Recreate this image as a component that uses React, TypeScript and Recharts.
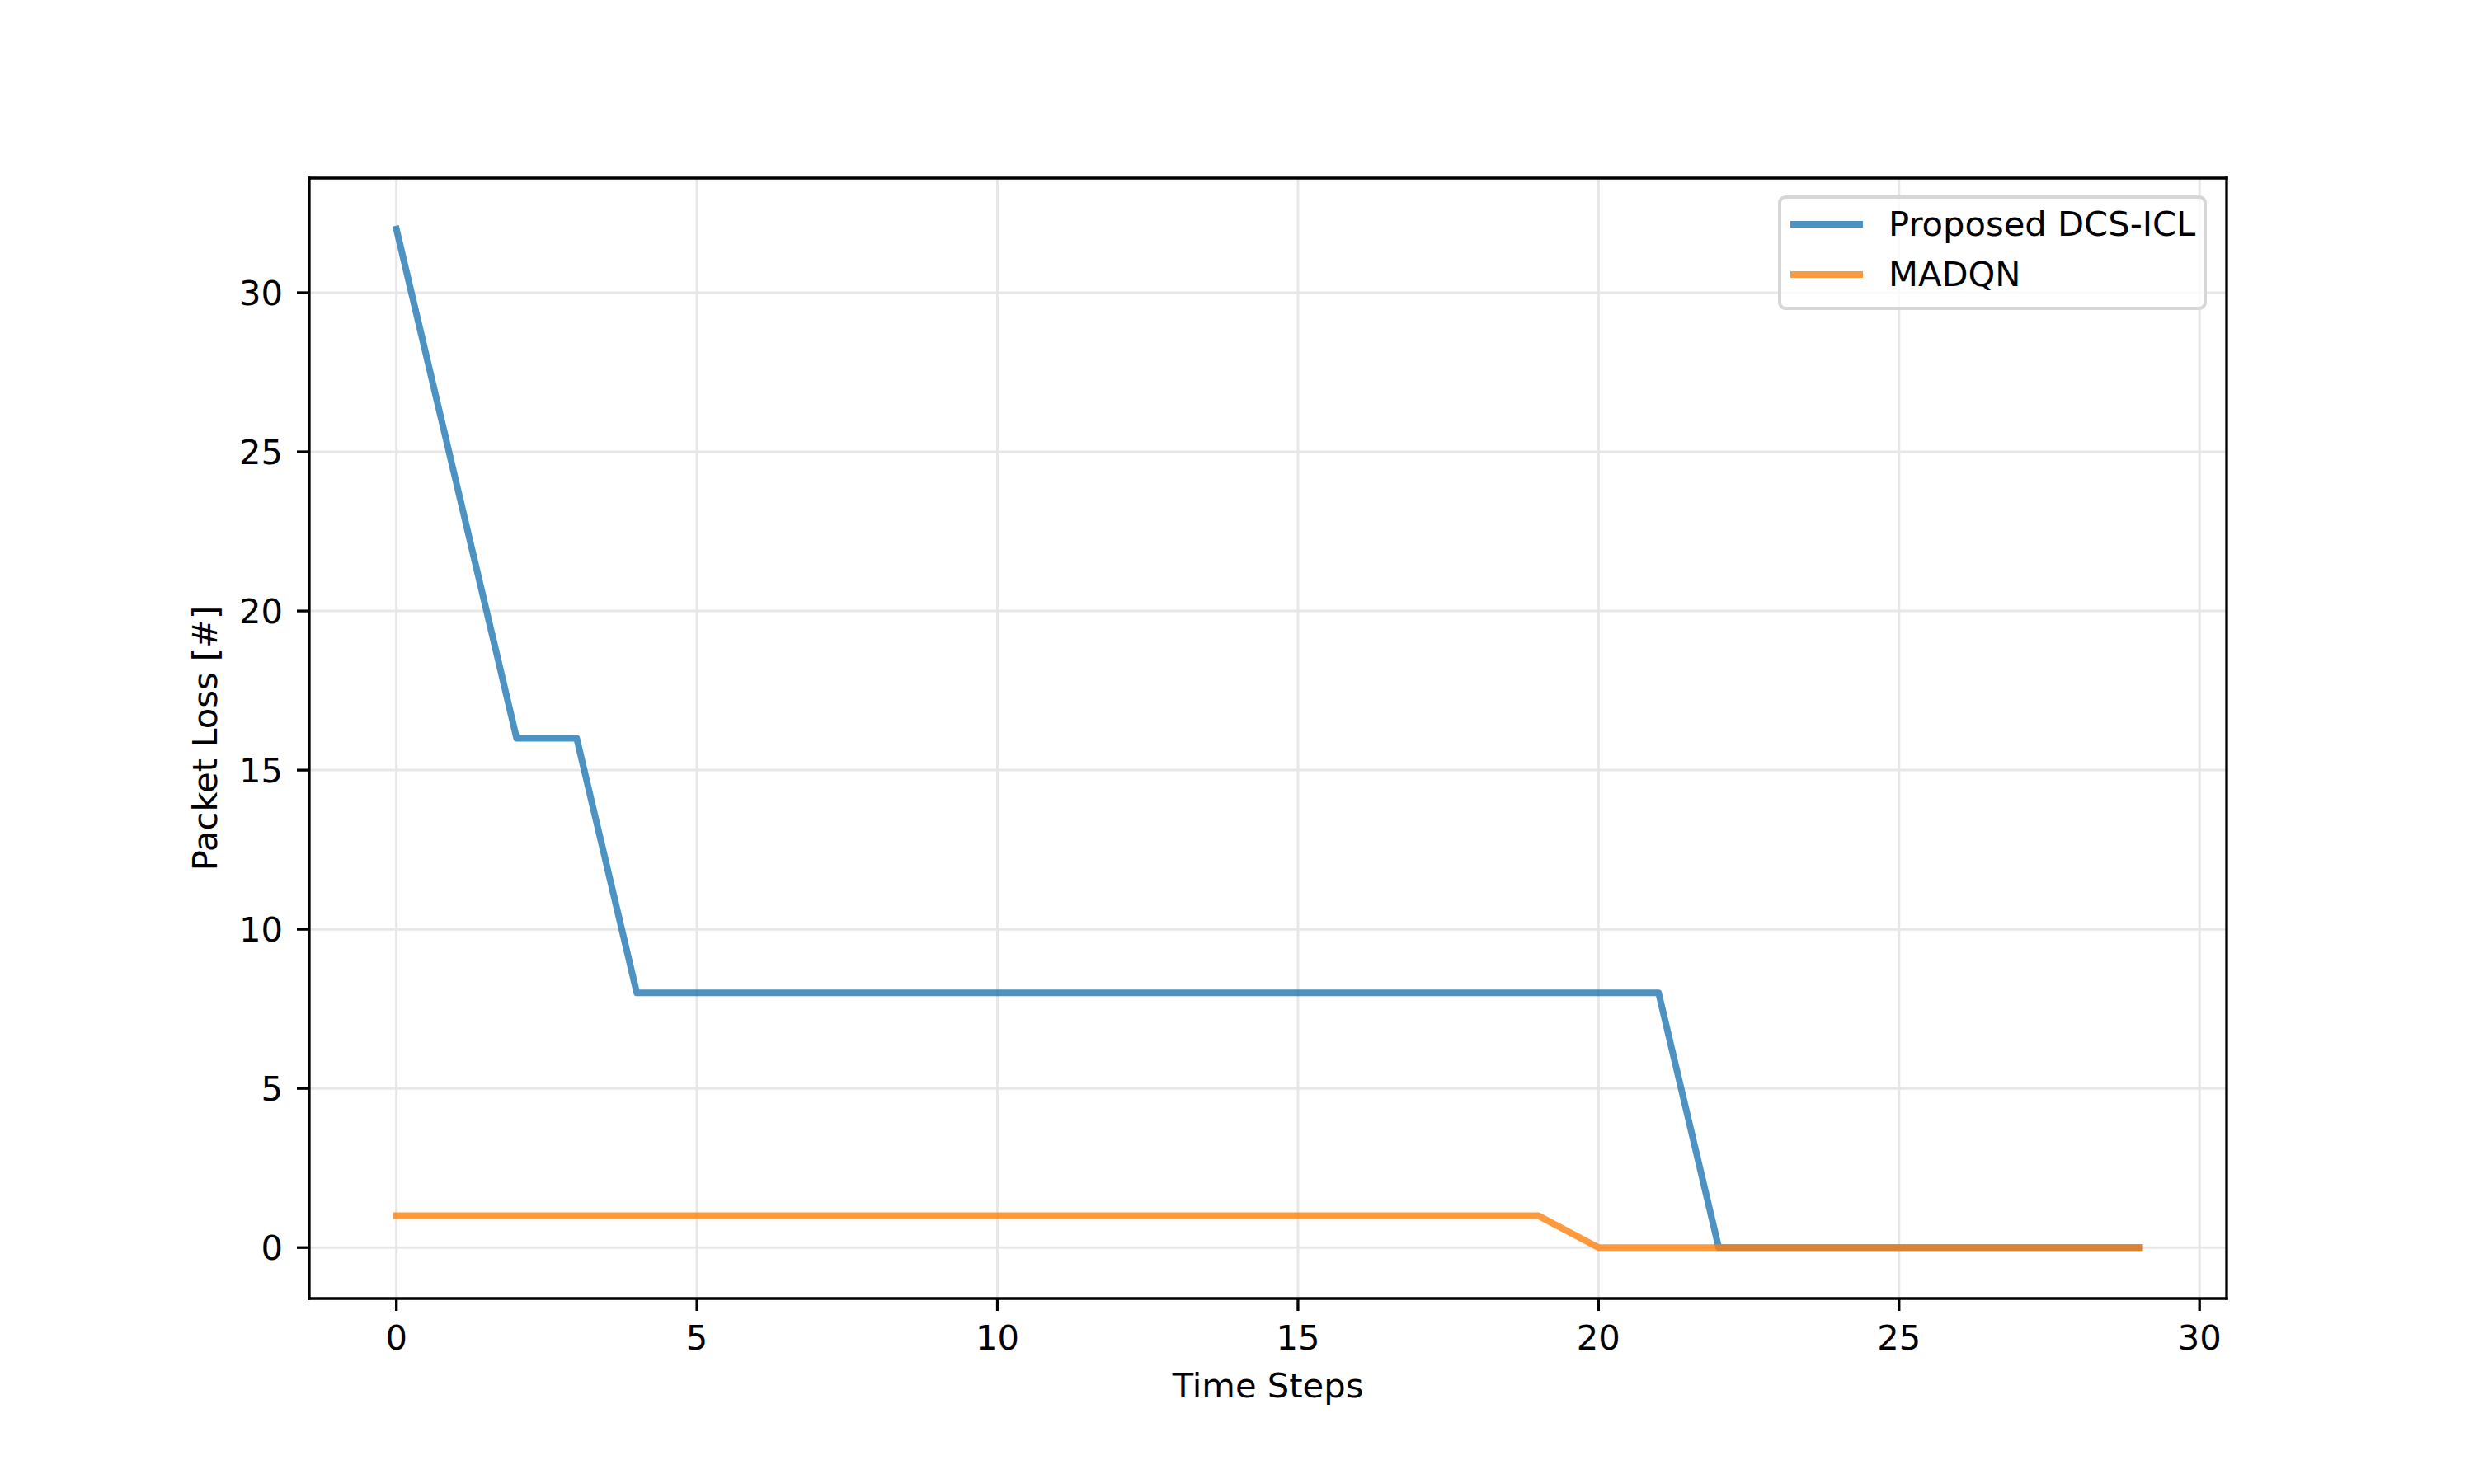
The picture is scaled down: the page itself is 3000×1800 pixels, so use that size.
import React from 'react'
import {
  LineChart,
  Line,
  XAxis,
  YAxis,
  CartesianGrid,
  Legend,
} from 'recharts'

// values
const timeSteps = [
  0, 1, 2, 3, 4, 5, 6, 7, 8, 9, 10, 11, 12, 13, 14, 15, 16, 17, 18, 19, 20, 21,
  22, 23, 24, 25, 26, 27, 28, 29,
]
const dcsIcl = [
  32, 24, 16, 16, 8, 8, 8, 8, 8, 8, 8, 8, 8, 8, 8, 8, 8, 8, 8, 8, 8, 8, 0, 0, 0,
  0, 0, 0, 0, 0,
]
const madqn = [
  1, 1, 1, 1, 1, 1, 1, 1, 1, 1, 1, 1, 1, 1, 1, 1, 1, 1, 1, 1, 0, 0, 0, 0, 0, 0,
  0, 0, 0, 0,
]
const xTicks = [0, 5, 10, 15, 20, 25, 30]
const yTicks = [0, 5, 10, 15, 20, 25, 30]

const series = [
  { key: 'dcsIcl', name: 'Proposed DCS-ICL', color: '#1f77b4' },
  { key: 'madqn', name: 'MADQN', color: '#ff7f0e' },
]

const data = timeSteps.map((t, i) => ({ t, dcsIcl: dcsIcl[i], madqn: madqn[i] }))

const FONT = '"DejaVu Sans", sans-serif'
const FS = 41.67
const SPINE = 3.3

function LegendBox() {
  return (
    <div
      style={{
        position: 'relative',
        width: 520,
        height: 139,
        boxSizing: 'border-box',
        border: '4px solid #d6d6d6',
        borderRadius: 9,
        background: 'rgba(255,255,255,0.8)',
        fontFamily: FONT,
        fontSize: FS,
        color: '#000',
      }}
    >
      {series.map((s, i) => (
        <div
          key={s.key}
          style={{
            position: 'absolute',
            left: 11,
            top: 1 + i * 61,
            height: 60,
            display: 'flex',
            alignItems: 'center',
            lineHeight: 1,
            whiteSpace: 'nowrap',
          }}
        >
          <div
            style={{
              width: 88,
              height: 8,
              background: s.color,
              opacity: 0.8,
              marginRight: 31,
            }}
          />
          <span>{s.name}</span>
        </div>
      ))}
    </div>
  )
}

export default function App() {
  return (
    <div style={{ position: 'absolute', left: 0, top: 0, background: '#fff' }}>
      <LineChart
        width={3000}
        height={1800}
        data={data}
        margin={{ top: 215, right: 299, left: 235, bottom: 135 }}
      >
        <CartesianGrid
          xAxisId="bottom"
          yAxisId="left"
          stroke="#e7e7e7"
          strokeWidth={3}
        />
        <XAxis
          xAxisId="bottom"
          dataKey="t"
          type="number"
          domain={[-1.45, 30.45]}
          ticks={xTicks}
          allowDataOverflow
          height={90}
          tickSize={15}
          tickMargin={17}
          tickLine={{ stroke: '#000', strokeWidth: SPINE }}
          axisLine={{ stroke: '#000', strokeWidth: SPINE, strokeLinecap: 'square' }}
          tick={{ fill: '#000', fontSize: FS, fontFamily: FONT }}
          label={{
            value: 'Time Steps',
            position: 'bottom',
            offset: 0,
            style: { fill: '#000', fontSize: FS, fontFamily: FONT },
          }}
        />
        <XAxis
          xAxisId="top"
          dataKey="t"
          type="number"
          orientation="top"
          domain={[-1.45, 30.45]}
          allowDataOverflow
          height={1}
          tick={false}
          tickLine={false}
          axisLine={{ stroke: '#000', strokeWidth: SPINE, strokeLinecap: 'square' }}
        />
        <YAxis
          yAxisId="left"
          type="number"
          domain={[-1.6, 33.6]}
          ticks={yTicks}
          allowDataOverflow
          width={140}
          tickSize={15}
          tickMargin={17}
          tickLine={{ stroke: '#000', strokeWidth: SPINE }}
          axisLine={{ stroke: '#000', strokeWidth: SPINE, strokeLinecap: 'square' }}
          tick={{ fill: '#000', fontSize: FS, fontFamily: FONT }}
          label={{
            value: 'Packet Loss [#]',
            angle: -90,
            position: 'insideLeft',
            offset: 13.5,
            style: { textAnchor: 'middle', fill: '#000', fontSize: FS, fontFamily: FONT },
          }}
        />
        <YAxis
          yAxisId="right"
          type="number"
          orientation="right"
          domain={[-1.6, 33.6]}
          allowDataOverflow
          width={1}
          tick={false}
          tickLine={false}
          axisLine={{ stroke: '#000', strokeWidth: SPINE, strokeLinecap: 'square' }}
        />
        <Legend
          layout="vertical"
          align="center"
          verticalAlign="middle"
          width={520}
          height={139}
          wrapperStyle={{ left: 2156, top: 237 }}
          content={() => <LegendBox />}
        />
        {series.map((s) => (
          <Line
            key={s.key}
            xAxisId="bottom"
            yAxisId="left"
            type="linear"
            dataKey={s.key}
            name={s.name}
            stroke={s.color}
            strokeOpacity={0.8}
            strokeWidth={8}
            strokeLinejoin="round"
            strokeLinecap="square"
            dot={false}
            activeDot={false}
            isAnimationActive={false}
          />
        ))}
      </LineChart>
    </div>
  )
}
